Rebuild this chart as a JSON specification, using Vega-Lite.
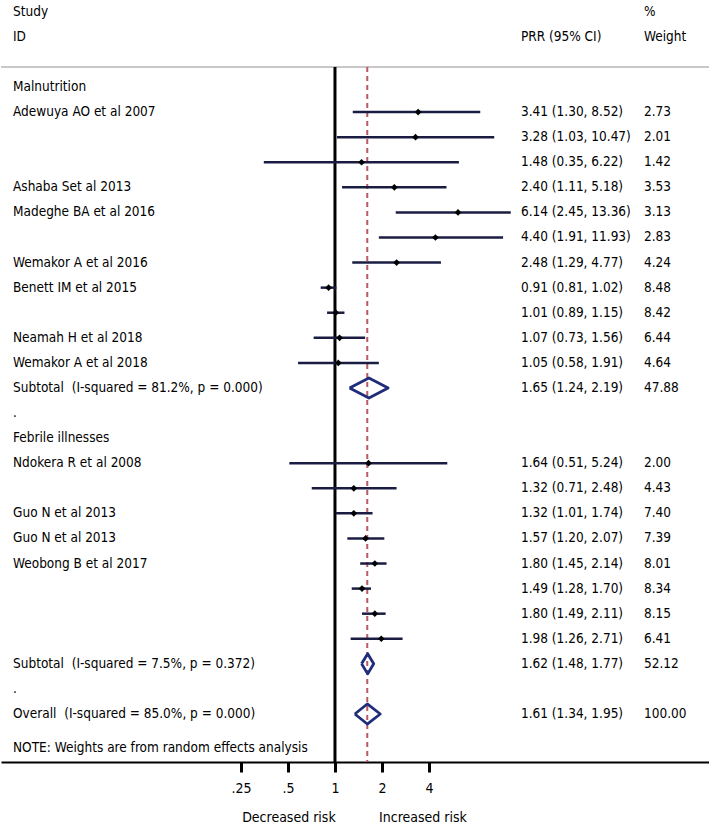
{
  "$schema": "https://vega.github.io/schema/vega-lite/v6.json",
  "width": 709,
  "height": 762,
  "padding": 0,
  "autosize": {"type": "pad"},
  "config": {
    "font": "DejaVu Sans Condensed, Liberation Sans, sans-serif",
    "view": {"stroke": null},
    "text": {"fontSize": 13.5, "color": "#000000", "baseline": "middle", "align": "left"}
  },
  "datasets": {
    "rows": [
      {"row": -3, "label": "Study", "est_text": "", "weight": "%"},
      {"row": -2, "label": "ID", "est_text": "PRR (95% CI)", "weight": "Weight"},
      {"row": 0, "label": "Malnutrition", "est_text": "", "weight": ""},
      {"row": 1, "label": "Adewuya AO et al 2007", "est_text": "3.41 (1.30, 8.52)", "weight": "2.73"},
      {"row": 2, "label": "", "est_text": "3.28 (1.03, 10.47)", "weight": "2.01"},
      {"row": 3, "label": "", "est_text": "1.48 (0.35, 6.22)", "weight": "1.42"},
      {"row": 4, "label": "Ashaba Set al 2013", "est_text": "2.40 (1.11, 5.18)", "weight": "3.53"},
      {"row": 5, "label": "Madeghe BA et al 2016", "est_text": "6.14 (2.45, 13.36)", "weight": "3.13"},
      {"row": 6, "label": "", "est_text": "4.40 (1.91, 11.93)", "weight": "2.83"},
      {"row": 7, "label": "Wemakor A et al 2016", "est_text": "2.48 (1.29, 4.77)", "weight": "4.24"},
      {"row": 8, "label": "Benett IM et al 2015", "est_text": "0.91 (0.81, 1.02)", "weight": "8.48"},
      {"row": 9, "label": "", "est_text": "1.01 (0.89, 1.15)", "weight": "8.42"},
      {"row": 10, "label": "Neamah H et al 2018", "est_text": "1.07 (0.73, 1.56)", "weight": "6.44"},
      {"row": 11, "label": "Wemakor A et al 2018", "est_text": "1.05 (0.58, 1.91)", "weight": "4.64"},
      {"row": 12, "label": "Subtotal\u00a0 (I-squared = 81.2%, p = 0.000)", "est_text": "1.65 (1.24, 2.19)", "weight": "47.88"},
      {"row": 13, "label": ".", "est_text": "", "weight": ""},
      {"row": 14, "label": "Febrile illnesses", "est_text": "", "weight": ""},
      {"row": 15, "label": "Ndokera R et al 2008", "est_text": "1.64 (0.51, 5.24)", "weight": "2.00"},
      {"row": 16, "label": "", "est_text": "1.32 (0.71, 2.48)", "weight": "4.43"},
      {"row": 17, "label": "Guo N et al 2013", "est_text": "1.32 (1.01, 1.74)", "weight": "7.40"},
      {"row": 18, "label": "Guo N et al 2013", "est_text": "1.57 (1.20, 2.07)", "weight": "7.39"},
      {"row": 19, "label": "Weobong B et al 2017", "est_text": "1.80 (1.45, 2.14)", "weight": "8.01"},
      {"row": 20, "label": "", "est_text": "1.49 (1.28, 1.70)", "weight": "8.34"},
      {"row": 21, "label": "", "est_text": "1.80 (1.49, 2.11)", "weight": "8.15"},
      {"row": 22, "label": "", "est_text": "1.98 (1.26, 2.71)", "weight": "6.41"},
      {"row": 23, "label": "Subtotal\u00a0 (I-squared = 7.5%, p = 0.372)", "est_text": "1.62 (1.48, 1.77)", "weight": "52.12"},
      {"row": 24, "label": ".", "est_text": "", "weight": ""},
      {"row": 25, "label": "Overall\u00a0 (I-squared = 85.0%, p = 0.000)", "est_text": "1.61 (1.34, 1.95)", "weight": "100.00"},
      {"row": 26.35, "label": "NOTE: Weights are from random effects analysis", "est_text": "", "weight": ""}
    ],
    "studies": [
      {"row": 1, "est": 3.41, "lo": 1.30, "hi": 8.52},
      {"row": 2, "est": 3.28, "lo": 1.03, "hi": 10.47},
      {"row": 3, "est": 1.48, "lo": 0.35, "hi": 6.22},
      {"row": 4, "est": 2.40, "lo": 1.11, "hi": 5.18},
      {"row": 5, "est": 6.14, "lo": 2.45, "hi": 13.36},
      {"row": 6, "est": 4.40, "lo": 1.91, "hi": 11.93},
      {"row": 7, "est": 2.48, "lo": 1.29, "hi": 4.77},
      {"row": 8, "est": 0.91, "lo": 0.81, "hi": 1.02},
      {"row": 9, "est": 1.01, "lo": 0.89, "hi": 1.15},
      {"row": 10, "est": 1.07, "lo": 0.73, "hi": 1.56},
      {"row": 11, "est": 1.05, "lo": 0.58, "hi": 1.91},
      {"row": 15, "est": 1.64, "lo": 0.51, "hi": 5.24},
      {"row": 16, "est": 1.32, "lo": 0.71, "hi": 2.48},
      {"row": 17, "est": 1.32, "lo": 1.01, "hi": 1.74},
      {"row": 18, "est": 1.57, "lo": 1.20, "hi": 2.07},
      {"row": 19, "est": 1.80, "lo": 1.45, "hi": 2.14},
      {"row": 20, "est": 1.49, "lo": 1.28, "hi": 1.70},
      {"row": 21, "est": 1.80, "lo": 1.49, "hi": 2.11},
      {"row": 22, "est": 1.98, "lo": 1.26, "hi": 2.71}
    ],
    "diamonds": [
      {"pool": "Malnutrition", "ord": 1, "x": 1.24, "y": 12},
      {"pool": "Malnutrition", "ord": 2, "x": 1.65, "y": 11.6},
      {"pool": "Malnutrition", "ord": 3, "x": 2.19, "y": 12},
      {"pool": "Malnutrition", "ord": 4, "x": 1.65, "y": 12.4},
      {"pool": "Malnutrition", "ord": 5, "x": 1.24, "y": 12},
      {"pool": "Febrile", "ord": 1, "x": 1.48, "y": 23},
      {"pool": "Febrile", "ord": 2, "x": 1.62, "y": 22.6},
      {"pool": "Febrile", "ord": 3, "x": 1.77, "y": 23},
      {"pool": "Febrile", "ord": 4, "x": 1.62, "y": 23.4},
      {"pool": "Febrile", "ord": 5, "x": 1.48, "y": 23},
      {"pool": "Overall", "ord": 1, "x": 1.34, "y": 25},
      {"pool": "Overall", "ord": 2, "x": 1.61, "y": 24.6},
      {"pool": "Overall", "ord": 3, "x": 1.95, "y": 25},
      {"pool": "Overall", "ord": 4, "x": 1.61, "y": 25.4},
      {"pool": "Overall", "ord": 5, "x": 1.34, "y": 25}
    ]
  },
  "data": {"name": "rows"},
  "layer": [
    {
      "data": {"values": [{"k": 1}]},
      "mark": {"type": "rule", "color": "#c8c8c8", "strokeWidth": 2},
      "encoding": {
        "y": {"datum": -0.8, "type": "quantitative", "scale": {"domain": [-3.469, 26.914], "reverse": true, "nice": false, "zero": false}, "axis": null}
      }
    },
    {
      "data": {"values": [{"k": 1}]},
      "mark": {"type": "rule", "color": "#000000", "strokeWidth": 3},
      "encoding": {
        "x": {"datum": 1, "type": "quantitative"},
        "y": {"datum": -0.8, "type": "quantitative"},
        "y2": {"datum": 26.914}
      }
    },
    {
      "data": {"values": [{"k": 1}]},
      "mark": {"type": "rule", "color": "#bc5864", "strokeWidth": 2, "strokeDash": [5, 4]},
      "encoding": {
        "x": {"datum": 1.61, "type": "quantitative"},
        "y": {"datum": -0.8, "type": "quantitative"},
        "y2": {"datum": 26.914}
      }
    },
    {
      "data": {"name": "studies"},
      "mark": {"type": "rule", "color": "#1a1c42", "strokeWidth": 2.5},
      "encoding": {
        "x": {
          "field": "lo", "type": "quantitative",
          "scale": {"type": "log", "base": 2, "domain": [0.00726, 252.3], "nice": false, "zero": false},
          "axis": {
            "title": null,
            "values": [0.25, 0.5, 1, 2, 4],
            "labelExpr": "datum.value == 0.25 ? '.25' : datum.value == 0.5 ? '.5' : datum.value == 1 ? '1' : datum.value == 2 ? '2' : '4'",
            "grid": false,
            "domainColor": "#000000",
            "domainWidth": 2,
            "tickColor": "#000000",
            "tickWidth": 3,
            "tickSize": 10,
            "labelFontSize": 14,
            "labelColor": "#000000",
            "labelPadding": 9,
            "labelFlush": false
          }
        },
        "x2": {"field": "hi"},
        "y": {"field": "row", "type": "quantitative"}
      }
    },
    {
      "data": {"name": "studies"},
      "mark": {"type": "point", "shape": "diamond", "filled": true, "color": "#000000", "size": 45, "opacity": 1},
      "encoding": {
        "x": {"field": "est", "type": "quantitative"},
        "y": {"field": "row", "type": "quantitative"}
      }
    },
    {
      "data": {"name": "diamonds"},
      "mark": {"type": "line", "color": "#1f2d7a", "strokeWidth": 2.8, "strokeJoin": "round"},
      "encoding": {
        "x": {"field": "x", "type": "quantitative"},
        "y": {"field": "y", "type": "quantitative"},
        "detail": {"field": "pool"},
        "order": {"field": "ord"}
      }
    },
    {
      "mark": {"type": "text"},
      "encoding": {
        "x": {"datum": 0.00867, "type": "quantitative"},
        "y": {"field": "row", "type": "quantitative"},
        "text": {"field": "label"}
      }
    },
    {
      "mark": {"type": "text"},
      "encoding": {
        "x": {"datum": 15.53, "type": "quantitative"},
        "y": {"field": "row", "type": "quantitative"},
        "text": {"field": "est_text"}
      }
    },
    {
      "mark": {"type": "text"},
      "encoding": {
        "x": {"datum": 95.3, "type": "quantitative"},
        "y": {"field": "row", "type": "quantitative"},
        "text": {"field": "weight"}
      }
    },
    {
      "data": {"values": [{"label": "Decreased risk"}]},
      "mark": {"type": "text", "align": "center", "fontSize": 14},
      "encoding": {
        "x": {"datum": 0.507, "type": "quantitative"},
        "y": {"datum": 29.15, "type": "quantitative"},
        "text": {"field": "label"}
      }
    },
    {
      "data": {"values": [{"label": "Increased risk"}]},
      "mark": {"type": "text", "align": "center", "fontSize": 14},
      "encoding": {
        "x": {"datum": 3.66, "type": "quantitative"},
        "y": {"datum": 29.15, "type": "quantitative"},
        "text": {"field": "label"}
      }
    }
  ]
}
